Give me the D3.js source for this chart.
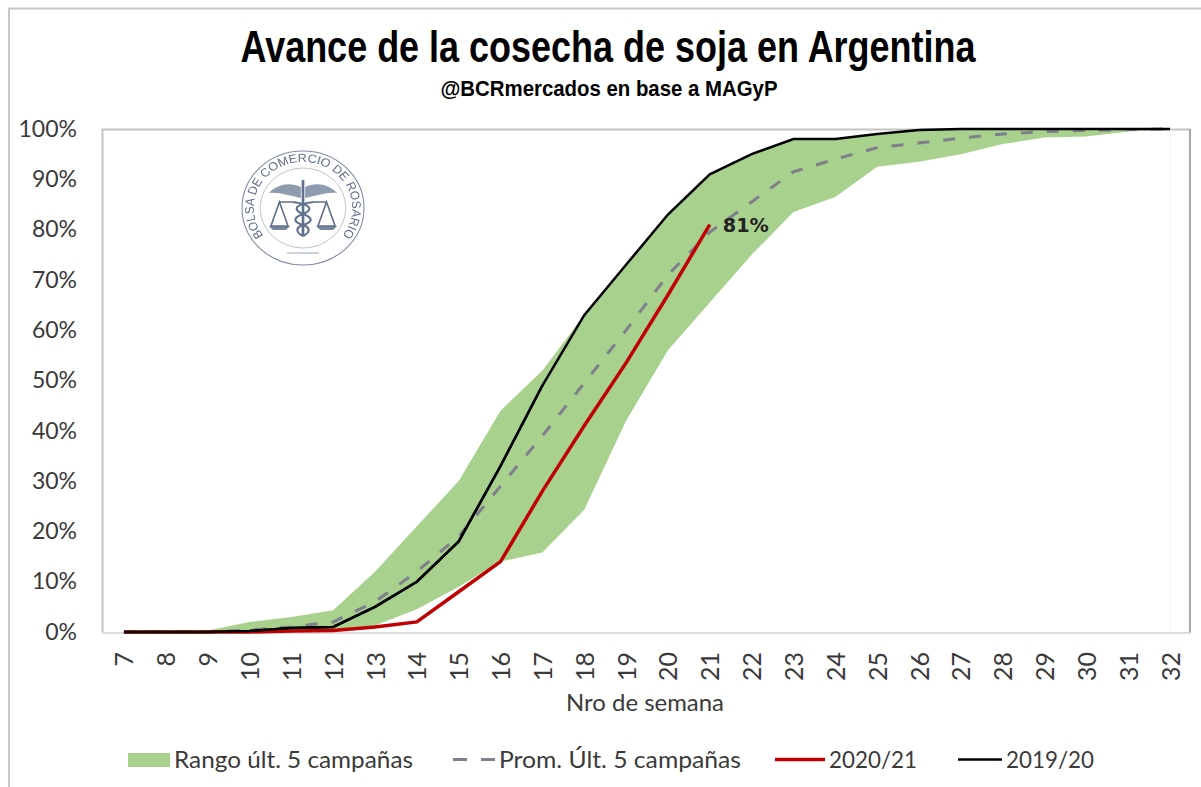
<!DOCTYPE html>
<html>
<head>
<meta charset="utf-8">
<script src="https://cdn.jsdelivr.net/npm/d3@7"></script>
<style>
body { margin: 0; background: #fff; }
svg { display: block; }
text { font-family: Lato, "Open Sans", sans-serif; fill: #3a3a3a; }
.axis path, .axis line { stroke: none; }
</style>
</head>
<body>
<div id="chart"></div>
<script>
// Valores (% de avance por semana)
var semanas = [7,8,9,10,11,12,13,14,15,16,17,18,19,20,21,22,23,24,25,26,27,28,29,30,31,32];
var rangoMax = [0,0,0.3,2,3,4.3,12,21,30,44,52,63,73,83,91,95,98,98,99,99.8,100,100,100,100,100,100];
var rangoMin = [0,0,0,0,0,0,1.3,4.5,9,14,15.8,24.3,42,56,65.5,75,83.5,86.5,92.5,93.5,95,97,98.3,98.5,99.5,100];
var promedio = [0,0,0,0.4,1,2,6,12,19,29,39,49.5,60,71,79.5,85.5,91.5,94,96.3,97.2,98.2,99,99.5,99.7,99.9,100];
var camp2021 = [0,0,0,0,0.2,0.3,1,2,8,14,28,41,53.5,67,81];
var camp1920 = [0,0,0,0.2,0.8,1,5,10,18,33,49,63,73,83,91,95,98,98,99,99.8,100,100,100,100,100,100];
var ticksY = [0,10,20,30,40,50,60,70,80,90,100];
var leyenda = ["Rango últ. 5 campañas", "Prom. Últ. 5 campañas", "2020/21", "2019/20"];

var width = 1201, height = 787;
var svg = d3.select("#chart").append("svg").attr("width", width).attr("height", height);
var defs = svg.append("defs");

// borde exterior
svg.append("path").attr("d", "M9,787V8.5H1201").attr("fill", "none").attr("stroke", "#c8c8c8").attr("stroke-width", 2);

// titulos
svg.append("text").text("Avance de la cosecha de soja en Argentina")
	.attr("x", 608).attr("y", 62).attr("text-anchor", "middle")
	.attr("textLength", 735).attr("lengthAdjust", "spacingAndGlyphs")
	.style("font-family", "'Liberation Sans Narrow', 'Liberation Sans', sans-serif")
	.style("font-weight", "bold").style("font-size", "44px").style("fill", "#000");
svg.append("text").text("@BCRmercados  en base a MAGyP")
	.attr("x", 609).attr("y", 96).attr("text-anchor", "middle")
	.attr("textLength", 337).attr("lengthAdjust", "spacingAndGlyphs")
	.style("font-family", "'Liberation Sans Narrow', 'Liberation Sans', sans-serif")
	.style("font-weight", "bold").style("font-size", "22px").style("fill", "#000");

// escalas
var x = d3.scalePoint().domain(semanas).range([103, 1191]).padding(0.5);
var y = d3.scaleLinear().domain([0, 100]).range([632, 129]);

// marco del area de grafico
svg.append("path").attr("d", "M102.5,632V129.5H1190").attr("fill", "none").attr("stroke", "#c4c4c4").attr("stroke-width", 2);
svg.append("line").attr("x1", 1190).attr("x2", 1190).attr("y1", 129).attr("y2", 633).attr("stroke", "#a6a6a6").attr("stroke-width", 2);
svg.append("line").attr("x1", 102).attr("x2", 1190).attr("y1", 633).attr("y2", 633).attr("stroke", "#dcdcdc").attr("stroke-width", 2);

// rango
var area = d3.area()
	.x(function(d, i){ return x(semanas[i]); })
	.y0(function(d, i){ return y(rangoMin[i]); })
	.y1(function(d){ return y(d); });
svg.append("path").datum(rangoMax).attr("d", area).attr("fill", "#a9d18e");
svg.append("line").attr("x1", x(32)).attr("x2", x(32)).attr("y1", y(100)).attr("y2", y(0)).attr("stroke", "#f2f8ee").attr("stroke-width", 1.5);

// lineas
var line = d3.line()
	.x(function(d, i){ return x(semanas[i]); })
	.y(function(d){ return y(d); });
svg.append("path").datum(promedio).attr("d", line).attr("fill", "none")
	.attr("stroke", "#7f7f8c").attr("stroke-width", 3).attr("stroke-dasharray", "12,14");
svg.append("path").datum(camp1920).attr("d", line).attr("fill", "none")
	.attr("stroke", "#000").attr("stroke-width", 2.5);
svg.append("path").datum(camp2021).attr("d", line).attr("fill", "none")
	.attr("stroke", "#c00000").attr("stroke-width", 3.5);
svg.append("path").datum(camp1920.slice(0, 11)).attr("d", line).attr("fill", "none")
	.attr("stroke", "#000").attr("stroke-width", 2.5);

// etiqueta del ultimo dato
svg.append("text").text(camp2021[camp2021.length - 1] + "%")
	.attr("x", x(21) + 13).attr("y", y(81) + 7)
	.attr("textLength", 46).attr("lengthAdjust", "spacingAndGlyphs")
	.style("font-family", "'DejaVu Sans', sans-serif")
	.style("font-size", "19px").style("font-weight", "bold").style("fill", "#222");

// ejes
var yAxis = d3.axisLeft(y).tickValues(ticksY).tickSize(0).tickPadding(26)
	.tickFormat(function(d){ return d + "%"; });
svg.append("g").attr("class", "axis").attr("transform", "translate(103,-1)").call(yAxis)
	.selectAll("text").style("font-size", "23px").attr("dy", "0.36em");

var xAxis = d3.axisBottom(x).tickSize(0);
svg.append("g").attr("class", "axis").attr("transform", "translate(0,632)").call(xAxis)
	.selectAll("text")
	.style("font-size", "25px")
	.attr("text-anchor", "end")
	.attr("transform", "rotate(-90)")
	.attr("x", -20).attr("y", 0).attr("dy", "0.36em");

svg.append("text").text("Nro de semana")
	.attr("x", 645).attr("y", 711).attr("text-anchor", "middle")
	.attr("textLength", 158).attr("lengthAdjust", "spacingAndGlyphs")
	.style("font-size", "23px");

// leyenda
var legendY = 759.5;
svg.append("rect").attr("x", 128).attr("y", 753).attr("width", 42).attr("height", 14).attr("fill", "#a9d18e");
svg.append("line").attr("x1", 453).attr("x2", 495).attr("y1", legendY).attr("y2", legendY)
	.attr("stroke", "#7f7f8c").attr("stroke-width", 3).attr("stroke-dasharray", "14,14");
svg.append("line").attr("x1", 775).attr("x2", 825).attr("y1", legendY).attr("y2", legendY)
	.attr("stroke", "#c00000").attr("stroke-width", 3.5);
svg.append("line").attr("x1", 958).attr("x2", 1002).attr("y1", legendY).attr("y2", legendY)
	.attr("stroke", "#000").attr("stroke-width", 2.5);

var legendX = [174, 499, 829, 1006];
var legendW = [239, 242, 88, 88];
svg.selectAll(".leg").data(leyenda).enter().append("text")
	.attr("class", "leg")
	.text(function(d){ return d; })
	.attr("x", function(d, i){ return legendX[i]; })
	.attr("y", legendY + 8)
	.attr("textLength", function(d, i){ return legendW[i]; })
	.attr("lengthAdjust", "spacingAndGlyphs")
	.style("font-size", "23px");

// sello de la Bolsa
var logoColor = "#5f6f8c";
defs.append("filter").attr("id", "selloBlur").append("feGaussianBlur").attr("stdDeviation", 0.4);
defs.append("path").attr("id", "selloArco").attr("d", "M-33,32A46,46 0 1 1 33,32");
var logo = svg.append("g").attr("transform", "translate(303,208) scale(1.07,1)")
	.attr("fill", "none").attr("stroke", logoColor).attr("filter", "url(#selloBlur)");
logo.append("circle").attr("r", 57).attr("stroke-width", 1).attr("opacity", 0.8);
logo.append("circle").attr("r", 40).attr("stroke-width", 0.8).attr("opacity", 0.5);
logo.append("text").append("textPath").attr("href", "#selloArco")
	.attr("startOffset", "50%").attr("text-anchor", "middle")
	.text("BOLSA DE COMERCIO DE ROSARIO")
	.style("font-family", "'Liberation Sans', sans-serif")
	.style("font-size", "11.8px")
	.style("fill", logoColor).attr("stroke", "none");
// alas
logo.append("path").attr("fill", logoColor).attr("stroke", "none").attr("opacity", 0.7)
	.attr("d", "M-2,-21C-12,-26 -24,-24 -32,-15C-22,-16 -12,-12 -2,-10Z M2,-21C12,-26 24,-24 32,-15C22,-16 12,-12 2,-10Z");
// vara y serpiente
logo.append("line").attr("x1", 0).attr("x2", 0).attr("y1", -28).attr("y2", 28).attr("stroke-width", 2.5);
logo.append("path").attr("stroke-width", 2)
	.attr("d", "M-10,-6C8,-4 10,2 0,6C-10,10 -9,14 0,17C8,20 6,25 0,28");
logo.append("path").attr("stroke-width", 2)
	.attr("d", "M10,-6C-8,-4 -10,2 0,6C10,10 9,14 0,17C-8,20 -6,25 0,28");
// balanzas
logo.append("path").attr("stroke-width", 1.5)
	.attr("d", "M-22,-6L-30,18H-14ZM22,-6L14,18H30Z M-22,-6H-10M22,-6H10");
logo.append("path").attr("fill", logoColor).attr("stroke", "none").attr("opacity", 0.85)
	.attr("d", "M-32,18H-12L-16,22H-28Z M12,18H32L28,22H16Z");
logo.append("line").attr("x1", -15).attr("x2", 15).attr("y1", 45).attr("y2", 45).attr("stroke-width", 1).attr("opacity", 0.6);
</script>
</body>
</html>
